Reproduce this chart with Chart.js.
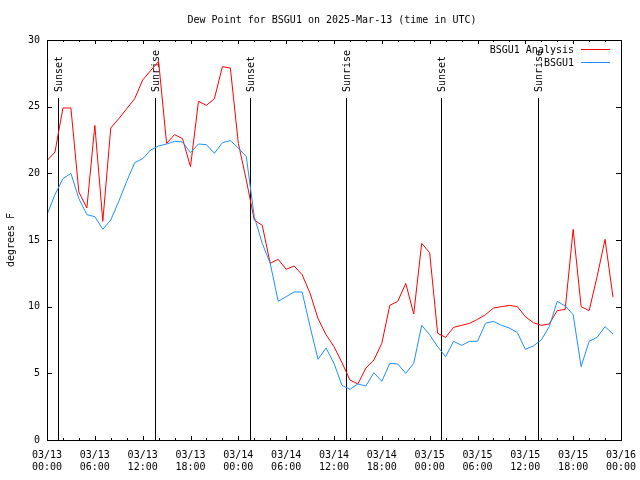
<!DOCTYPE html>
<html>
<head>
<meta charset="utf-8">
<script src="https://cdn.jsdelivr.net/npm/chart.js@4/dist/chart.umd.min.js"></script>
<style>
  html, body { margin: 0; padding: 0; background: #fff; }
  #grafico { display: block; }
</style>
</head>
<body>
<canvas id="grafico" width="640" height="480"></canvas>
<script>
// Datos horarios desde 03/13 00:00 UTC
const analisis = [20.95, 21.6, 24.9, 24.9, 18.6, 17.4, 23.6, 16.4, 23.4, 24.1, 24.85, 25.6,
  27.0, 27.7, 28.4, 22.25, 22.9, 22.6, 20.5, 25.4, 25.1, 25.6, 28.0, 27.9,
  22.25, 19.5, 16.5, 16.1, 13.25, 13.55, 12.8, 13.05, 12.4, 11.0, 9.1, 7.9,
  7.0, 5.8, 4.5, 4.2, 5.4, 6.0, 7.25, 10.1, 10.4, 11.75, 9.45, 14.75,
  14.05, 8.0, 7.7, 8.45, 8.6, 8.75, 9.05, 9.4, 9.9, 10.0, 10.1, 10.0,
  9.25, 8.8, 8.6, 8.7, 9.7, 9.8, 15.8, 10.0, 9.7, 12.25, 15.05, 10.7];

const estacion = [16.9, 18.4, 19.6, 20.0, 18.1, 16.9, 16.75, 15.8, 16.5, 17.9, 19.4, 20.8,
  21.1, 21.75, 22.05, 22.2, 22.4, 22.35, 21.55, 22.2, 22.15, 21.5, 22.3, 22.45,
  21.9, 21.25, 16.75, 14.75, 13.25, 10.4, 10.75, 11.1, 11.1, 8.5, 6.05, 6.9,
  5.75, 4.1, 3.8, 4.2, 4.05, 5.05, 4.4, 5.75, 5.7, 5.0, 5.75, 8.6,
  7.9, 7.0, 6.25, 7.4, 7.1, 7.4, 7.4, 8.75, 8.9, 8.6, 8.4, 8.05,
  6.8, 7.05, 7.5, 8.5, 10.4, 10.05, 9.4, 5.5, 7.4, 7.7, 8.5, 7.95];

// Etiquetas del eje X (cada 6 horas)
const etiquetasX = [
  ['03/13', '00:00'], ['03/13', '06:00'], ['03/13', '12:00'], ['03/13', '18:00'],
  ['03/14', '00:00'], ['03/14', '06:00'], ['03/14', '12:00'], ['03/14', '18:00'],
  ['03/15', '00:00'], ['03/15', '06:00'], ['03/15', '12:00'], ['03/15', '18:00'],
  ['03/16', '00:00']
];

// Salida y puesta del sol (horas desde el inicio)
const eventosSol = ['Sunset', 'Sunrise', 'Sunset', 'Sunrise', 'Sunset', 'Sunrise'];
const horasSol = [1.42, 13.58, 25.43, 37.55, 49.45, 61.53];

const nombresSeries = ['BSGU1 Analysis', 'BSGU1'];
const coloresSeries = ['#ff0000', '#1e90ff'];

const fuente = '10px "DejaVu Sans Mono", monospace';

const aPuntos = (valores) => valores.map((v, i) => ({ x: i, y: v }));

// Plugin para lo que Chart.js no dibuja como gnuplot
const decoracion = {
  id: 'decoracion',
  beforeDatasetsDraw(chart) {
    const { ctx, chartArea: a, scales: { x } } = chart;
    ctx.save();
    ctx.strokeStyle = '#000';
    ctx.fillStyle = '#000';
    ctx.lineWidth = 1;
    ctx.font = fuente;
    horasSol.forEach((h, i) => {
      const px = Math.round(x.getPixelForValue(h)) + 0.5;
      ctx.beginPath();
      ctx.moveTo(px, 98);
      ctx.lineTo(px, a.bottom);
      ctx.stroke();
      ctx.save();
      ctx.translate(px + 1, 92);
      ctx.rotate(-Math.PI / 2);
      ctx.textAlign = 'left';
      ctx.textBaseline = 'middle';
      ctx.fillText(eventosSol[i], 0, 0);
      ctx.restore();
    });
    ctx.restore();
  },
  afterDraw(chart) {
    const { ctx, chartArea: a, scales: { x, y } } = chart;
    ctx.save();
    ctx.strokeStyle = '#000';
    ctx.lineWidth = 1;

    // Marcas hacia dentro, abajo y arriba
    ctx.beginPath();
    for (let h = 0; h <= 72; h += 2) {
      const px = Math.round(x.getPixelForValue(h)) + 0.5;
      const largo = h % 6 === 0 ? 4 : 2;
      ctx.moveTo(px, a.bottom);
      ctx.lineTo(px, a.bottom - largo);
      ctx.moveTo(px, a.top);
      ctx.lineTo(px, a.top + largo);
    }
    for (let v = 0; v <= 30; v += 5) {
      const py = Math.round(y.getPixelForValue(v)) + 0.5;
      ctx.moveTo(a.left, py);
      ctx.lineTo(a.left + 5, py);
      ctx.moveTo(a.right, py);
      ctx.lineTo(a.right - 5, py);
    }
    ctx.stroke();

    // Borde
    ctx.strokeRect(Math.round(a.left) + 0.5, Math.round(a.top) + 0.5,
      Math.round(a.right - a.left), Math.round(a.bottom - a.top));

    // Título
    ctx.fillStyle = '#000';
    ctx.font = fuente;
    ctx.textAlign = 'center';
    ctx.textBaseline = 'middle';
    ctx.fillText('Dew Point for BSGU1 on 2025-Mar-13 (time in UTC)', 332, 20);

    // Leyenda
    ctx.textAlign = 'right';
    nombresSeries.forEach((nombre, i) => {
      const py = 50 + i * 13;
      ctx.fillStyle = '#000';
      ctx.fillText(nombre, 574, py);
      ctx.strokeStyle = coloresSeries[i];
      ctx.beginPath();
      ctx.moveTo(581, py - 0.5);
      ctx.lineTo(610, py - 0.5);
      ctx.stroke();
    });
    ctx.restore();
  }
};

const ctxGrafico = document.getElementById('grafico').getContext('2d');

new Chart(ctxGrafico, {
  type: 'line',
  data: {
    datasets: [{
      label: nombresSeries[0],
      data: aPuntos(analisis),
      borderColor: coloresSeries[0],
      borderWidth: 1,
      pointRadius: 0,
      tension: 0,
      order: 1
    }, {
      label: nombresSeries[1],
      data: aPuntos(estacion),
      borderColor: coloresSeries[1],
      borderWidth: 1,
      pointRadius: 0,
      tension: 0,
      order: 0
    }]
  },
  options: {
    responsive: false,
    animation: false,
    devicePixelRatio: 1,
    layout: { padding: { top: 40, right: 19, left: 0, bottom: 0 } },
    plugins: {
      legend: { display: false },
      tooltip: { enabled: false }
    },
    scales: {
      x: {
        type: 'linear',
        min: 0,
        max: 72,
        grid: { display: false, drawTicks: false },
        border: { display: false },
        ticks: {
          stepSize: 6,
          autoSkip: false,
          maxRotation: 0,
          padding: 9,
          color: '#000',
          font: { family: '"DejaVu Sans Mono", monospace', size: 10, lineHeight: 1.2 },
          callback: (v) => etiquetasX[v / 6]
        },
        afterFit: (escala) => {
          escala.height = 40;
          escala.paddingLeft = 0;
          escala.paddingRight = 0;
        }
      },
      y: {
        min: 0,
        max: 30,
        grid: { display: false, drawTicks: false },
        border: { display: false },
        ticks: {
          stepSize: 5,
          padding: 7,
          color: '#000',
          font: { family: '"DejaVu Sans Mono", monospace', size: 10 }
        },
        title: {
          display: true,
          text: 'degrees F',
          color: '#000',
          padding: { top: 5, bottom: 0 },
          font: { family: '"DejaVu Sans Mono", monospace', size: 10 }
        },
        afterFit: (escala) => { escala.width = 47; }
      }
    }
  },
  plugins: [decoracion]
});
</script>
</body>
</html>
